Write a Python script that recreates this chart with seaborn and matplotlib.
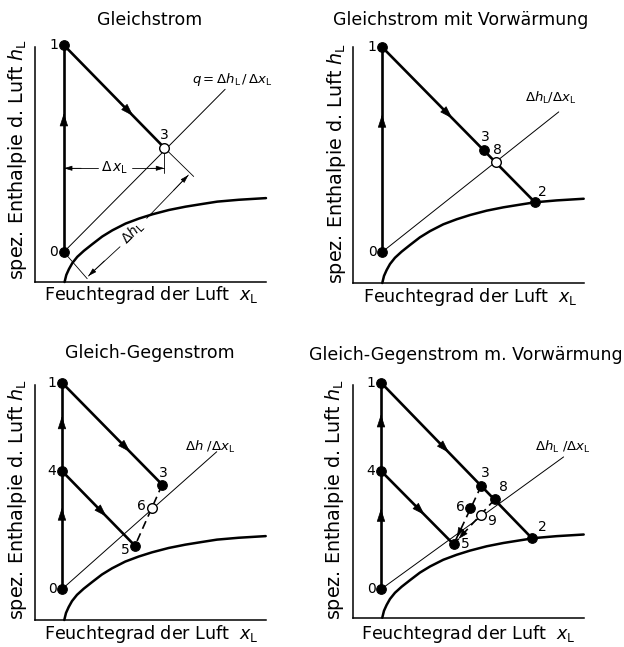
import numpy as np
import pandas as pd
import matplotlib
matplotlib.use("Agg")
import matplotlib.pyplot as plt
from matplotlib.patches import FancyArrowPatch
import seaborn as sns

sns.set_theme(style="white")
plt.rcParams['font.family'] = ['DejaVu Sans']
plt.rcParams['mathtext.fontset'] = 'dejavusans'

# ---------------- data (normalised diagram units) ----------------
titles = ["Gleichstrom", "Gleichstrom mit Vorwärmung",
          "Gleich-Gegenstrom", "Gleich-Gegenstrom m. Vorwärmung"]
xlabel_text = r"Feuchtegrad der Luft  $x_\mathrm{L}$"
ylabel_text = r"spez. Enthalpie d. Luft $h_\mathrm{L}$"
line_labels = [r"$q = \Delta h_\mathrm{L}\,/\,\Delta x_\mathrm{L}$",
               r"$\Delta h_\mathrm{L}/\Delta x_\mathrm{L}$",
               r"$\Delta h\ /\Delta x_\mathrm{L}$",
               r"$\Delta h_\mathrm{L}\ /\Delta x_\mathrm{L}$"]
line_label_x = [0.678, 0.747, 0.65, 0.789]
line_label_y = [0.86, 0.783, 0.737, 0.734]

# saturation curve
curve_x = [0.128, 0.1355, 0.147, 0.1615, 0.183, 0.212, 0.248, 0.291, 0.335,
           0.392, 0.45, 0.508, 0.58, 0.652, 0.724, 0.789, 0.883, 1.0]
curve_y = [0.0, 0.030, 0.055, 0.0805, 0.107, 0.133, 0.161, 0.1935, 0.22,
           0.2486, 0.27, 0.288, 0.3065, 0.3206, 0.332, 0.342, 0.350, 0.357]

# state points per panel
p1_names = ["0", "1", "3"]
p1_x = [0.125, 0.125, 0.56]
p1_y = [0.128, 1.008, 0.571]

p2_names = ["0", "1", "3", "8", "2"]
p2_x = [0.127, 0.127, 0.567, 0.62, 0.788]
p2_y = [0.131, 1.0, 0.565, 0.511, 0.343]

p3_names = ["0", "4", "1", "3", "5", "6"]
p3_x = [0.118, 0.118, 0.118, 0.552, 0.434, 0.506]
p3_y = [0.131, 0.634, 1.01, 0.576, 0.316, 0.478]

p4_names = ["0", "4", "1", "3", "8", "6", "9", "5", "2"]
p4_x = [0.1225, 0.1225, 0.1225, 0.557, 0.615, 0.509, 0.557, 0.437, 0.776]
p4_y = [0.122, 0.63, 1.009, 0.567, 0.508, 0.47, 0.441, 0.315, 0.341]

# end of the thin mixing line
mix_end_x = [0.823, 0.892, 0.788, 0.913]
mix_end_y = [0.82, 0.725, 0.716, 0.69]

heavy_segments = [[("0", "1"), ("1", "3")],
                  [("0", "1"), ("1", "2")],
                  [("0", "4"), ("4", "1"), ("1", "3"), ("4", "5")],
                  [("0", "4"), ("4", "1"), ("1", "2"), ("4", "5")]]
arrow_pos = [[0.67, 0.69], [0.67, 0.46], [0.69, 0.62, 0.68, 0.61],
             [0.68, 0.64, 0.45, 0.6]]
dashed_segments = [[], [], [("3", "5")], [("3", "5"), ("8", "5")]]
dashed_arrow = [False, False, False, True]
open_points = [["3"], ["8"], ["6"], ["9"]]

# label placement (offset in points, ha, va)
label_pos = [
    {"0": (-4, 0, "right", "center"), "1": (-4, 0, "right", "center"),
     "3": (0, 4, "center", "bottom")},
    {"0": (-4, 0, "right", "center"), "1": (-4, 0, "right", "center"),
     "3": (1, 4, "center", "bottom"), "8": (1, 4, "center", "bottom"),
     "2": (2, 2, "left", "bottom")},
    {"0": (-4, 0, "right", "center"), "1": (-4, 0, "right", "center"),
     "4": (-4, 0, "right", "center"), "3": (1, 3, "center", "bottom"),
     "5": (-4, -3, "right", "center"), "6": (-4, 1, "right", "center")},
    {"0": (-4, 0, "right", "center"), "1": (-4, 0, "right", "center"),
     "4": (-4, 0, "right", "center"), "3": (3, 4, "center", "bottom"),
     "8": (3, 4, "left", "bottom"), "6": (-4, 1, "right", "center"),
     "9": (4, -4, "left", "center"), "5": (5, 0, "left", "center"),
     "2": (4, 3, "left", "bottom")},
]

panels = [(p1_names, p1_x, p1_y), (p2_names, p2_x, p2_y),
          (p3_names, p3_x, p3_y), (p4_names, p4_x, p4_y)]

# ---------------- layout ----------------
W, H = 624, 647
fig = plt.figure(figsize=(W / 100, H / 100), dpi=100)
rects_px = [(35, 282, 231, 235), (352.7, 283, 231, 236),
            (34.7, 620, 231, 235), (352.7, 617.7, 231, 233)]
title_px = [(150, 20), (461, 20), (150, 353), (466, 355)]
xlab_px = [(151, 295), (470, 296.5), (151, 634), (468.5, 634)]
ylab_px = [(18, 160), (337, 164), (18, 500), (335, 500)]
FSX = 12.6
FSY = 13.8

K = "black"


def arrowhead(ax, p, q, t, lw_scale=15):
    x0 = p[0] + (q[0] - p[0]) * (t - 0.03)
    y0 = p[1] + (q[1] - p[1]) * (t - 0.03)
    x1 = p[0] + (q[0] - p[0]) * t
    y1 = p[1] + (q[1] - p[1]) * t
    a = FancyArrowPatch((x0, y0), (x1, y1),
                        arrowstyle="-|>,head_length=0.55,head_width=0.18",
                        mutation_scale=lw_scale, color=K, lw=0.5,
                        shrinkA=0, shrinkB=0, zorder=5)
    ax.add_patch(a)


for i in range(4):
    lx, by, w, h = rects_px[i]
    ax = fig.add_axes([lx / W, 1 - by / H, w / W, h / H])
    ax.set_xlim(0, 1)
    ax.set_ylim(0, 1)
    ax.set_xticks([])
    ax.set_yticks([])
    for s in ["top", "right"]:
        ax.spines[s].set_visible(False)
    for s in ["left", "bottom"]:
        ax.spines[s].set_color(K)
        ax.spines[s].set_linewidth(1.1)

    names, xs, ys = panels[i]
    pts = {n: (x, y) for n, x, y in zip(names, xs, ys)}
    df = pd.DataFrame({"name": names, "x": xs, "y": ys})

    # saturation curve
    cdf = pd.DataFrame({"x": curve_x, "y": curve_y})
    sns.lineplot(data=cdf, x="x", y="y", ax=ax, color=K, lw=1.8,
                 sort=False, estimator=None, clip_on=False)

    # thin mixing line
    p0 = pts["0"]
    ax.plot([p0[0], mix_end_x[i]], [p0[1], mix_end_y[i]], color=K, lw=0.7,
            clip_on=False, zorder=2)
    ax.text(line_label_x[i], line_label_y[i], line_labels[i],
            fontsize=9.5, ha="left", va="center", color=K, clip_on=False)

    # heavy process lines
    for (a, b), t in zip(heavy_segments[i], arrow_pos[i]):
        pa, pb = pts[a], pts[b]
        ax.plot([pa[0], pb[0]], [pa[1], pb[1]], color=K, lw=1.9,
                solid_capstyle="round", clip_on=False, zorder=3)
        arrowhead(ax, pa, pb, t)

    for a, b in dashed_segments[i]:
        pa, pb = pts[a], pts[b]
        ax.plot([pa[0], pb[0]], [pa[1], pb[1]], color=K, lw=1.2,
                ls=(0, (5, 3)), clip_on=False, zorder=3)
        if dashed_arrow[i]:
            arrowhead(ax, pa, pb, 0.88, lw_scale=11)

    # markers
    filled = df[~df["name"].isin(open_points[i])]
    opened = df[df["name"].isin(open_points[i])]
    sns.scatterplot(data=filled, x="x", y="y", ax=ax, s=48, color=K,
                    edgecolor=K, linewidth=0.8, zorder=6, clip_on=False)
    sns.scatterplot(data=opened, x="x", y="y", ax=ax, s=48, color="white",
                    edgecolor=K, linewidth=1.0, zorder=6, clip_on=False)

    for n, (x, y) in pts.items():
        dx, dy, ha, va = label_pos[i][n]
        ax.annotate(n, (x, y), xytext=(dx, dy), textcoords="offset points",
                    ha=ha, va=va, fontsize=10, color=K, zorder=7,
                    annotation_clip=False)

    ax.set_xlabel("")
    ax.set_ylabel("")

    # titles and axis labels (figure pixel positions)
    tx, ty = title_px[i]
    fig.text(tx / W, 1 - ty / H, titles[i], ha="center", va="center",
             fontsize=12.5, color=K)
    xx, xy = xlab_px[i]
    fig.text(xx / W, 1 - xy / H, xlabel_text, ha="center", va="center",
             fontsize=FSX, color=K)
    yx, yy = ylab_px[i]
    fig.text(yx / W, 1 - yy / H, ylabel_text, ha="center", va="center",
             rotation=90, fontsize=FSY, color=K)

    # dimensioning in the first panel
    if i == 0:
        p3 = pts["3"]
        dyx = 0.484
        ax.plot([p3[0], p3[0]], [p3[1], 0.462], color=K, lw=0.6)
        ax.plot([0.125, 0.274], [dyx, dyx], color=K, lw=0.6)
        ax.plot([0.419, p3[0]], [dyx, dyx], color=K, lw=0.6)
        for xa, xb in [(0.2, 0.125), (0.5, p3[0])]:
            ax.add_patch(FancyArrowPatch((xa, dyx), (xb, dyx),
                         arrowstyle="-|>,head_length=0.5,head_width=0.15",
                         mutation_scale=10, color=K, lw=0.5,
                         shrinkA=0, shrinkB=0))
        ax.text(0.346, dyx, r"$\Delta\,x_\mathrm{L}$", ha="center",
                va="center", fontsize=10, color=K)
        # delta h
        ax.plot([p0[0], 0.226], [p0[1], 0.014], color=K, lw=0.6)
        ax.plot([p3[0], 0.687], [p3[1], 0.449], color=K, lw=0.6)
        ax.plot([0.231, 0.368], [0.0255, 0.150], color=K, lw=0.6)
        ax.plot([0.4835, 0.664], [0.271, 0.455], color=K, lw=0.6)
        for (xa, ya), (xb, yb) in [((0.30, 0.09), (0.231, 0.0255)),
                                   ((0.60, 0.39), (0.664, 0.455))]:
            ax.add_patch(FancyArrowPatch((xa, ya), (xb, yb),
                         arrowstyle="-|>,head_length=0.5,head_width=0.15",
                         mutation_scale=10, color=K, lw=0.5,
                         shrinkA=0, shrinkB=0))
        ax.text(0.426, 0.21, r"$\Delta h_\mathrm{L}$", ha="center",
                va="center", rotation=45, fontsize=10, color=K)

fig.savefig("out.png", dpi=100)
